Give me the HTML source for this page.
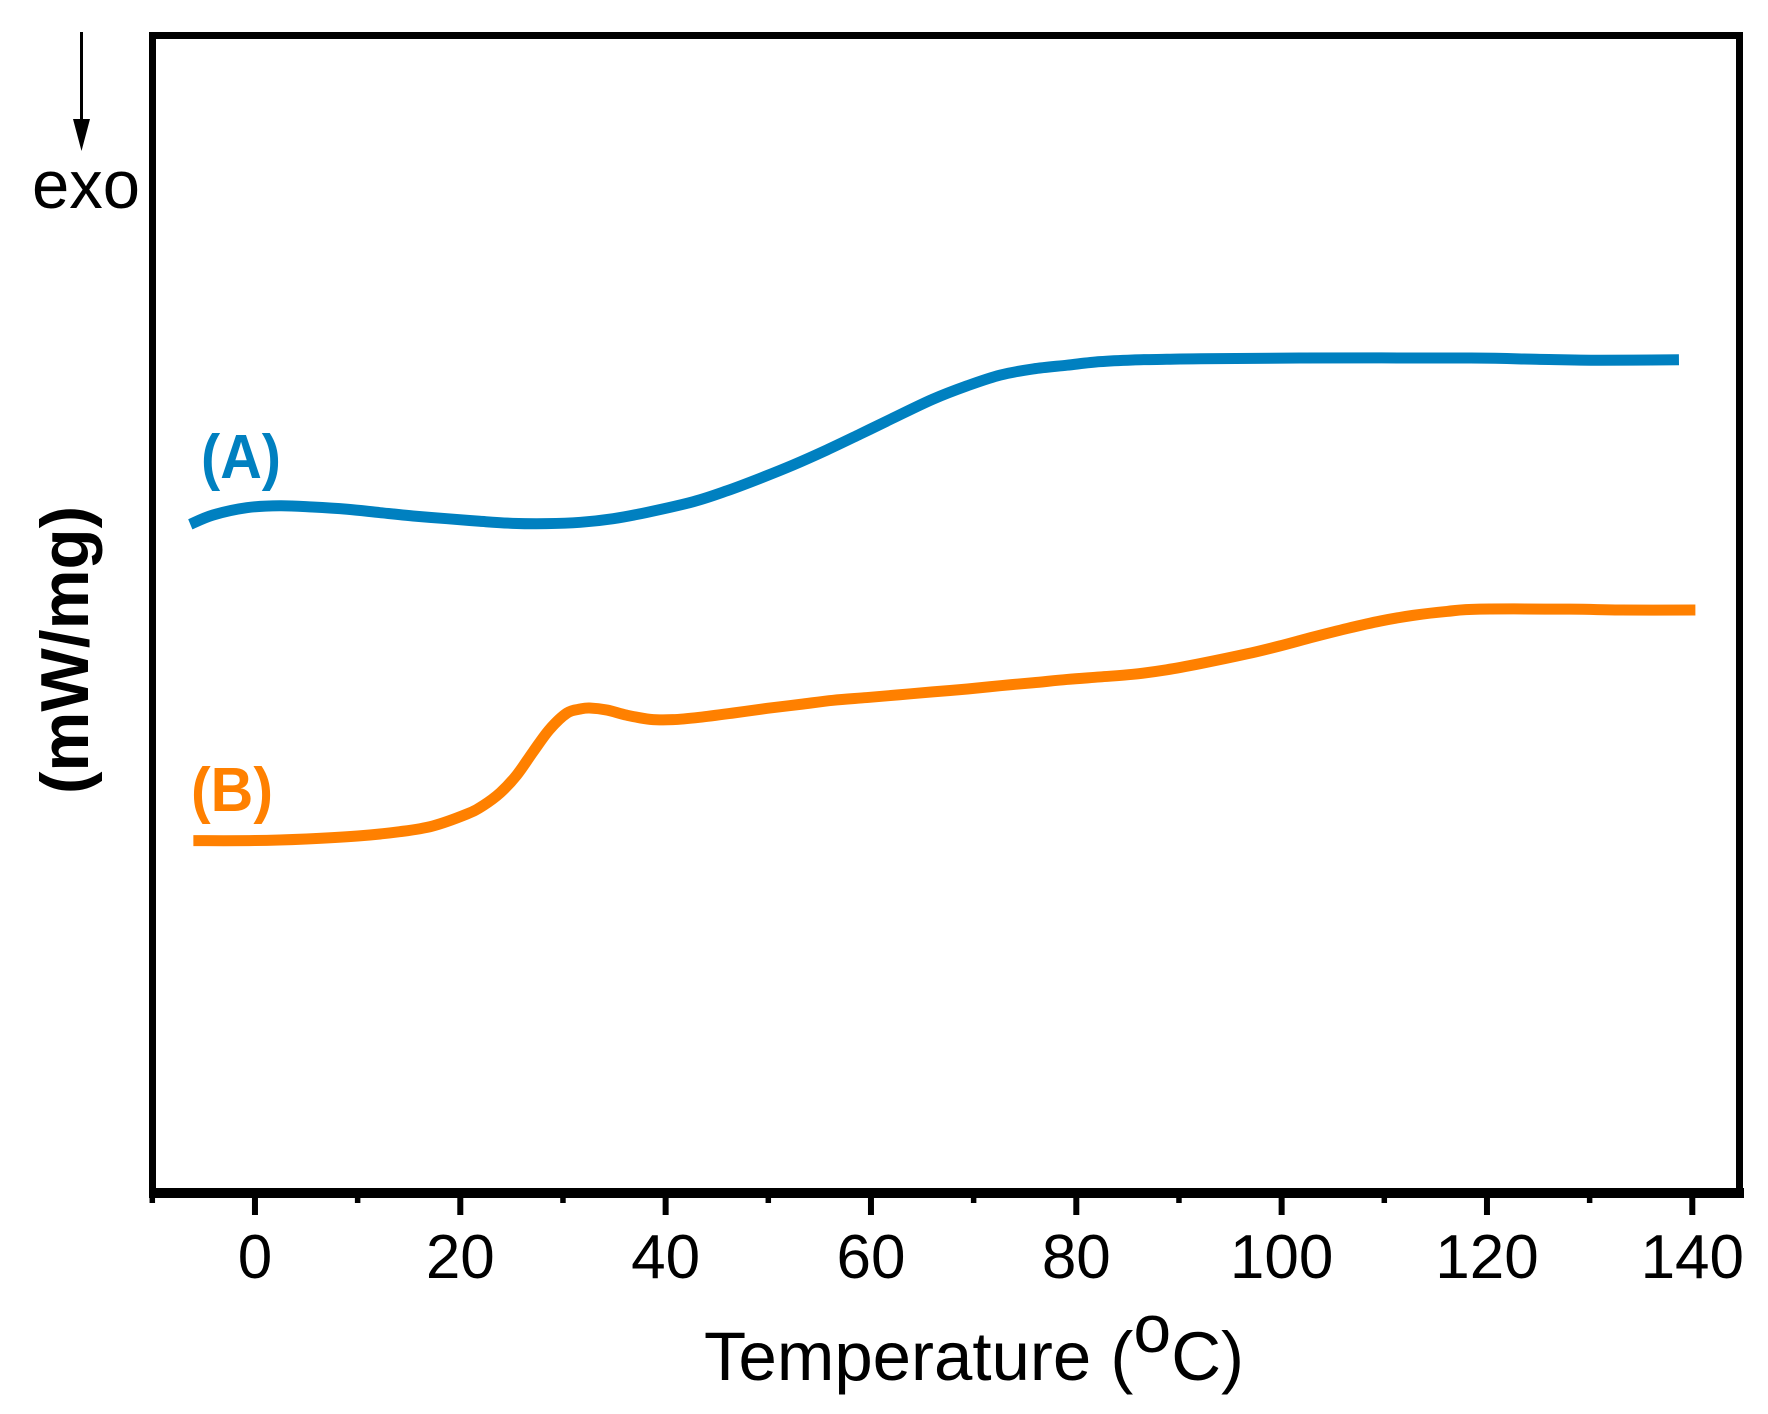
<!DOCTYPE html>
<html lang="en">
<head>
<meta charset="utf-8">
<title>DSC thermogram</title>
<style>
html,body{margin:0;padding:0;background:#fff;}
svg{display:block;font-family:"Liberation Sans",Arial,sans-serif;}
</style>
</head>
<body>
<svg id="chart" xmlns="http://www.w3.org/2000/svg" width="1768" height="1414" viewBox="0 0 1768 1414">
  <rect x="0" y="0" width="1768" height="1414" fill="#fff"/>
  <g id="series-layer"></g>
  <g id="tick-layer"></g>
  <line x1="150" y1="35.5" x2="1743" y2="35.5" stroke="#000" stroke-width="7"/>
  <line x1="152.5" y1="32" x2="152.5" y2="1198" stroke="#000" stroke-width="7"/>
  <line x1="1739.5" y1="32" x2="1739.5" y2="1198" stroke="#000" stroke-width="7"/>
  <line x1="149" y1="1193" x2="1744" y2="1193" stroke="#000" stroke-width="10"/>
  <line x1="81.5" y1="32" x2="81.5" y2="125" stroke="#000" stroke-width="3"/>
  <polygon points="73,119 90,119 81.5,151" fill="#000"/>
  <text x="32" y="208" font-size="68" fill="#000" textLength="108" lengthAdjust="spacingAndGlyphs">exo</text>
  <text x="704" y="1380" font-size="69" fill="#000" textLength="540" lengthAdjust="spacingAndGlyphs">Temperature (<tspan dy="-28" font-size="68">o</tspan><tspan dy="28">C)</tspan></text>
  <text transform="translate(88,794) rotate(-90)" font-size="68" font-weight="bold" fill="#000" textLength="288" lengthAdjust="spacingAndGlyphs">(mW/mg)</text>
  <text x="201" y="478" font-size="62" font-weight="bold" fill="#0080c0" textLength="80" lengthAdjust="spacingAndGlyphs">(A)</text>
  <text x="191" y="811" font-size="62" font-weight="bold" fill="#ff8000" textLength="82" lengthAdjust="spacingAndGlyphs">(B)</text>
</svg>
<script>
var tickValues = [-10, 0, 10, 20, 30, 40, 50, 60, 70, 80, 90, 100, 110, 120, 130, 140];
var tickLabels = ["", "0", "", "20", "", "40", "", "60", "", "80", "", "100", "", "120", "", "140"];
var temperatureA = [-6.3, -4.1, -0.8, 2.4, 5.6, 9, 12.2, 15.4, 18.7, 21.9, 25.1, 28.4, 31.7, 34.9, 38.2, 42.7, 46, 49.2, 52.4, 55.7, 58.9, 62.1, 66, 69.4, 72.6, 75.8, 79.1, 82.3, 85.5, 88.8, 92.1, 101.8, 118.4, 124.8, 131, 138.7];
var heatFlowA = [592.8, 601, 607.5, 609.2, 608.1, 606.1, 603.1, 600.2, 597.8, 595.5, 593.7, 593.4, 594.6, 597.8, 603.4, 612.8, 622.5, 633.4, 645.1, 658.4, 672.2, 686.3, 703.1, 715.1, 724.5, 729.9, 733.2, 736.3, 737.8, 738.4, 738.9, 739.5, 739.5, 738.4, 737.5, 738];
var temperatureB = [-6, 0, 5, 10, 14.1, 17.3, 20.65, 22.2, 23.9, 25.5, 27.1, 28.7, 30.4, 31.7, 32.6, 34.3, 36.2, 38.5, 40.7, 43.3, 46.6, 49.9, 53.1, 56.3, 59.6, 62.8, 66, 69.4, 72.6, 75.8, 79.1, 82.3, 85.5, 88.8, 92.1, 96.6, 99.8, 103.1, 106.4, 109.6, 112.8, 116.1, 119.3, 128.1, 133, 140.3];
var heatFlowB = [313.8, 313.9, 315.3, 317.9, 321.7, 326.7, 337.3, 344.6, 356.1, 371.7, 392.3, 412, 426.4, 429.9, 430.8, 429, 424.5, 420.8, 420.5, 422.6, 426.4, 430.5, 434, 437.6, 440, 442.5, 445, 447.6, 450.5, 453.1, 456, 458.2, 460.5, 464.5, 470, 478.5, 485.5, 493.5, 501, 507.5, 512.5, 516, 518, 518, 517.2, 517.2];

var svgNS = "http://www.w3.org/2000/svg";
var xDomain = [-10, 140], xRange = [152.3, 1692.3];
var yDomain = [3, 1024], yRange = [1193, 35.5];
function xScale(t) { return xRange[0] + (t - xDomain[0]) / (xDomain[1] - xDomain[0]) * (xRange[1] - xRange[0]); }
function yScale(v) { return yRange[0] + (v - yDomain[0]) / (yDomain[1] - yDomain[0]) * (yRange[1] - yRange[0]); }

function smoothPath(xs, ys) {
  var pts = xs.map(function (x, i) { return [xScale(x), yScale(ys[i])]; });
  var d = "M" + pts[0][0].toFixed(2) + " " + pts[0][1].toFixed(2);
  for (var i = 0; i < pts.length - 1; i++) {
    var p0 = pts[Math.max(i - 1, 0)], p1 = pts[i], p2 = pts[i + 1], p3 = pts[Math.min(i + 2, pts.length - 1)];
    var c1x = p1[0] + (p2[0] - p0[0]) / 6, c1y = p1[1] + (p2[1] - p0[1]) / 6;
    var c2x = p2[0] - (p3[0] - p1[0]) / 6, c2y = p2[1] - (p3[1] - p1[1]) / 6;
    d += "C" + c1x.toFixed(2) + " " + c1y.toFixed(2) + " " + c2x.toFixed(2) + " " + c2y.toFixed(2) + " " + p2[0].toFixed(2) + " " + p2[1].toFixed(2);
  }
  return d;
}

var seriesLayer = document.getElementById("series-layer");
var curveA = document.createElementNS(svgNS, "path");


curveA.setAttribute("d", smoothPath(temperatureA, heatFlowA));
curveA.setAttribute("fill", "none");
curveA.setAttribute("stroke", "#0080c0");
curveA.setAttribute("stroke-width", "11");
seriesLayer.appendChild(curveA);

var curveB = document.createElementNS(svgNS, "path");


curveB.setAttribute("d", smoothPath(temperatureB, heatFlowB));
curveB.setAttribute("fill", "none");
curveB.setAttribute("stroke", "#ff8000");
curveB.setAttribute("stroke-width", "11");
seriesLayer.appendChild(curveB);

var tickLayer = document.getElementById("tick-layer");
tickValues.forEach(function (t, i) {
  var label = tickLabels[i];
  var tick = document.createElementNS(svgNS, "line");
  
  
  tick.setAttribute("x1", xScale(t));
  tick.setAttribute("x2", xScale(t));
  tick.setAttribute("y1", 1193);
  tick.setAttribute("y2", label ? 1215 : 1203);
  tick.setAttribute("stroke", "#000");
  tick.setAttribute("stroke-width", label ? 6 : 5.5);
  tickLayer.appendChild(tick);
  if (label) {
    var text = document.createElementNS(svgNS, "text");
    
    
    text.setAttribute("x", xScale(t));
    text.setAttribute("y", 1278);
    text.setAttribute("font-size", 62);
    text.setAttribute("text-anchor", "middle");
    text.setAttribute("fill", "#000");
    text.textContent = label;
    tickLayer.appendChild(text);
  }
});
</script>
</body>
</html>
